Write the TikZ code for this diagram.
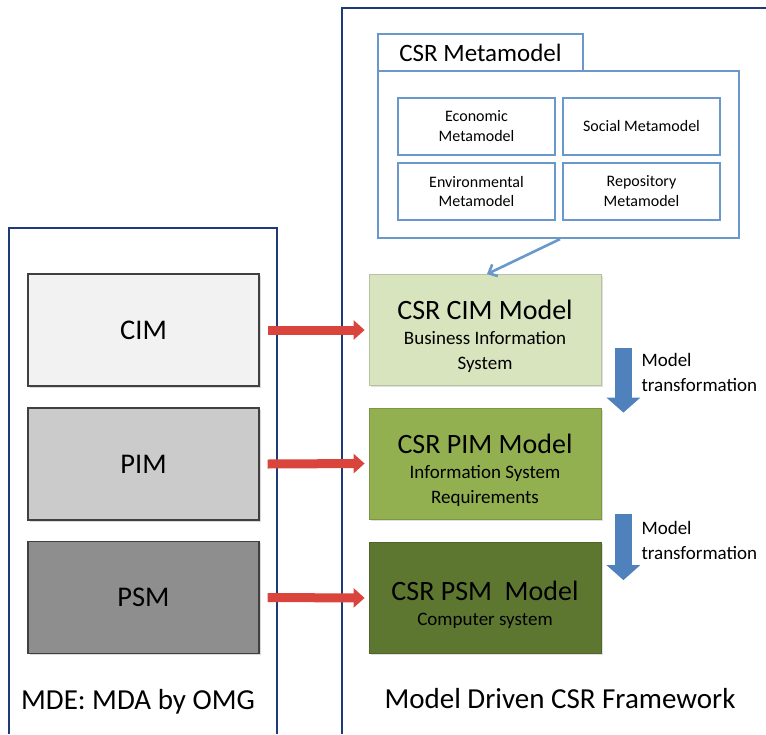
\documentclass[tikz,border=0pt]{standalone}
\usepackage{fontspec}
\setmainfont{Carlito}
\usetikzlibrary{arrows.meta,calc,shadows}
\definecolor{frameblue}{HTML}{1F3A78}
\definecolor{metablue}{HTML}{6A98CC}
\definecolor{transblue}{HTML}{4F81BD}
\definecolor{mapred}{HTML}{D9453C}
\definecolor{cimgray}{HTML}{F2F2F2}
\definecolor{pimgray}{HTML}{CBCBCB}
\definecolor{psmgray}{HTML}{8E8E8E}
\definecolor{cimgreen}{HTML}{D7E4BD}
\definecolor{pimgreen}{HTML}{93B050}
\definecolor{psmgreen}{HTML}{5E7730}
\newcommand{\csrtitle}[1]{{\fontsize{28}{30}\selectfont\rule{0pt}{33pt}#1}}
\begin{document}
\begin{tikzpicture}[x=1pt,y=-1pt,
  frame/.style={draw=frameblue,line width=2.2pt},
  mdabox/.style={draw=black!75,line width=1.2pt,minimum width=231pt,minimum height=112pt,
    font=\fontsize{28.5}{30}\selectfont,
    drop shadow={shadow xshift=1.5pt,shadow yshift=-1.5pt,opacity=.3}},
  csrbox/.style={draw=#1!85!black,fill=#1,line width=.8pt,minimum width=232pt,minimum height=111pt,
    align=center,font=\fontsize{19}{25}\selectfont,
    drop shadow={shadow xshift=1.5pt,shadow yshift=-1.5pt,opacity=.25}},
  metaline/.style={draw=metablue,line width=2.2pt},
  metabox/.style={metaline,minimum width=157pt,minimum height=57pt,align=center,
    font=\fontsize{16}{20}\selectfont},
  maparrow/.style={draw=mapred,line width=9pt,-{Triangle[width=19pt,length=11pt]}},
  transarrow/.style={draw=transblue,line width=17pt,-{Triangle[width=33pt,length=15pt]}},
  translabel/.style={anchor=west,align=left,font=\fontsize{19}{25}\selectfont}]
\useasboundingbox (0,0) rectangle (766,734);
% the two frames
\draw[frame] (9,734) |- (277,228) -- (277,734);
\draw[frame] (342,734) |- (766,8);
% MDA side
\node[mdabox,fill=cimgray] (cim) at (143.5,330) {CIM};
\node[mdabox,fill=pimgray] (pim) at (143.5,464) {PIM};
\node[mdabox,fill=psmgray] (psm) at (143.5,597.5) {PSM};
% CSR metamodel
\node[metaline,minimum width=205pt,minimum height=37pt,font=\fontsize{25}{25}\selectfont] (metatab) at (480.5,52.5) {CSR Metamodel};
\node[metaline,minimum width=361pt,minimum height=167pt] (meta) at (558.5,154.5) {};
\node[metabox] (eco) at (476.5,126.5) {Economic\\Metamodel};
\node[metabox] (soc) at (641.5,126.5) {Social Metamodel};
\node[metabox] (env) at (476.5,191.5) {Environmental\\Metamodel};
\node[metabox] (rep) at (641.5,191.5) {Repository\\Metamodel};
% CSR models
\node[csrbox=cimgreen] (gcim) at (485,330) {\csrtitle{CSR CIM Model}\\Business Information\\System};
\node[csrbox=pimgreen] (gpim) at (485,463.5) {\csrtitle{CSR PIM Model}\\Information System\\Requirements};
\node[csrbox=psmgreen] (gpsm) at (485,598) {\csrtitle{CSR PSM\ \ Model}\\Computer system};
% connectors
\draw[metaline,line width=2.6pt,-{Straight Barb[length=7pt,width=13pt]}] ($(meta.south)+(1.5,0)$) -- ($(gcim.north)+(2,0)$);
\draw[maparrow] ([xshift=8pt]cim.east) -- ([xshift=-4pt]gcim.west);
\draw[maparrow] ([xshift=8pt]pim.east) -- ([xshift=-4pt]gpim.west);
\draw[maparrow] ([xshift=8pt]psm.east) -- ([xshift=-4pt]gpsm.west);
\draw[transarrow] ($(gcim.south east)+(22,-38)$) -- ($(gpim.north east)+(22,5)$);
\draw[transarrow] ($(gpim.south east)+(22,-5)$) -- ($(gpsm.north east)+(22,38)$);
\node[translabel] (trans1) at (638,372) {Model\\transformation};
\node[translabel] (trans2) at (638,540) {Model\\transformation};
% captions
\node[font=\fontsize{29}{30}\selectfont] (mdelabel) at (138,702) {MDE: MDA by OMG};
\node[font=\fontsize{29}{30}\selectfont] (csrlabel) at (560,699) {Model Driven CSR Framework};
\end{tikzpicture}
\end{document}
